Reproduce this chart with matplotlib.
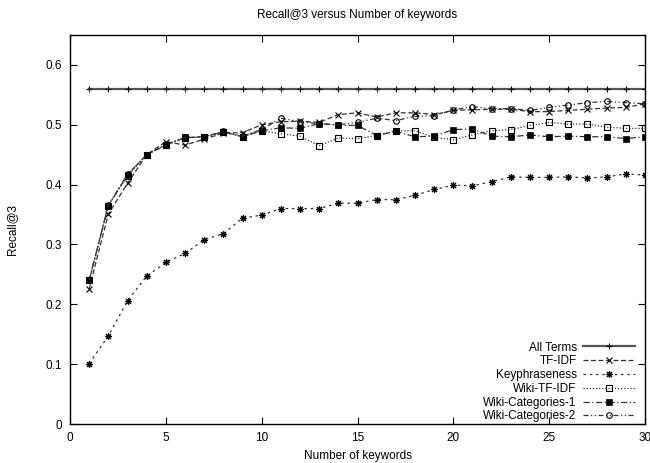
import numpy as np
import matplotlib
matplotlib.use('Agg')
import matplotlib.pyplot as plt

plt.rcParams['font.family'] = ['Liberation Sans', 'DejaVu Sans']
plt.rcParams['font.size'] = 8.5

# %% data: recall@3 for k = 1..30 keywords
keywords = np.arange(1, 31)

all_terms = [0.560] * 30

tf_idf = [0.226, 0.351, 0.402, 0.450, 0.472, 0.466, 0.476, 0.486, 0.487, 0.500,
          0.505, 0.506, 0.504, 0.517, 0.520, 0.513, 0.520, 0.520, 0.517, 0.524,
          0.525, 0.526, 0.526, 0.522, 0.522, 0.524, 0.526, 0.528, 0.529, 0.535]

keyphraseness = [0.101, 0.147, 0.206, 0.247, 0.270, 0.285, 0.308, 0.318, 0.344, 0.349,
                 0.360, 0.360, 0.360, 0.369, 0.369, 0.375, 0.375, 0.382, 0.392, 0.399,
                 0.398, 0.405, 0.413, 0.412, 0.412, 0.413, 0.411, 0.413, 0.418, 0.416]

wiki_tf_idf = [0.240, 0.365, 0.415, 0.450, 0.466, 0.478, 0.480, 0.488, 0.480, 0.490,
               0.485, 0.481, 0.465, 0.478, 0.477, 0.482, 0.490, 0.490, 0.479, 0.475,
               0.483, 0.490, 0.492, 0.499, 0.504, 0.501, 0.501, 0.496, 0.494, 0.494]

wiki_cat_1 = [0.240, 0.365, 0.416, 0.450, 0.466, 0.479, 0.479, 0.488, 0.480, 0.490,
              0.495, 0.494, 0.502, 0.499, 0.499, 0.482, 0.489, 0.480, 0.481, 0.492,
              0.493, 0.481, 0.480, 0.483, 0.480, 0.481, 0.480, 0.480, 0.477, 0.480]

wiki_cat_2 = [0.240, 0.366, 0.417, 0.450, 0.467, 0.479, 0.480, 0.489, 0.481, 0.492,
              0.511, 0.505, 0.502, 0.500, 0.504, 0.511, 0.507, 0.514, 0.515, 0.525,
              0.530, 0.527, 0.527, 0.524, 0.529, 0.533, 0.537, 0.539, 0.537, 0.535]

# %% plot
fig = plt.figure(figsize=(6.5, 4.63), dpi=100)
ax = fig.add_axes([0.1077, 0.0842, 0.8846, 0.8402])

lc = '#333333'
ax.plot(keywords, all_terms, color='#555555', lw=1.6, marker='+', ms=5, mec='black', mew=0.8,
        label='All Terms')
ax.plot(keywords, tf_idf, color=lc, lw=0.9, ls=(0, (4, 2)), marker='x', ms=4, mec='black', mew=0.8,
        label='TF-IDF')
ax.plot(keywords, keyphraseness, color=lc, lw=0.9, ls=(0, (2, 3)), marker=(8, 2, 0), ms=5,
        mec='black', mew=0.8, label='Keyphraseness')
ax.plot(keywords, wiki_tf_idf, color=lc, lw=0.9, ls=(0, (1, 1.5)), marker='s', ms=4.3, mfc='none',
        mec='black', mew=0.8, label='Wiki-TF-IDF')
ax.plot(keywords, wiki_cat_1, color=lc, lw=0.9, ls=(0, (5, 2, 1, 2)), marker='s', ms=5,
        mfc='black', mec='black', mew=0.5, label='Wiki-Categories-1')
ax.plot(keywords, wiki_cat_2, color=lc, lw=0.9, ls=(0, (4, 2, 1, 2, 1, 2)), marker='o', ms=4,
        mfc='none', mec='black', mew=0.8, label='Wiki-Categories-2')

ax.set_xlim(0, 30)
ax.set_ylim(0, 0.65)
ax.set_xticks(np.arange(0, 31, 5))
ax.set_yticks(np.arange(0, 0.61, 0.1))
ax.set_yticklabels(['0', '0.1', '0.2', '0.3', '0.4', '0.5', '0.6'])
ax.tick_params(direction='in', length=5, width=0.8, top=True, right=True)
ax.tick_params(axis='x', pad=6)
ax.tick_params(axis='y', pad=5.5)
for s in ax.spines.values():
    s.set_linewidth(1.0)

ax.set_title('Recall@3 versus Number of keywords', fontsize=8.5, pad=12)
ax.set_xlabel('Number of keywords', labelpad=4)
ax.set_ylabel('Recall@3', labelpad=20)

ax.legend(loc='lower right', bbox_to_anchor=(0.99, -0.008), frameon=False, markerfirst=False,
          handlelength=4.4, handletextpad=0.5, labelspacing=0.15, borderaxespad=0.0,
          fontsize=8.5)

fig.savefig('out.png', dpi=100)
